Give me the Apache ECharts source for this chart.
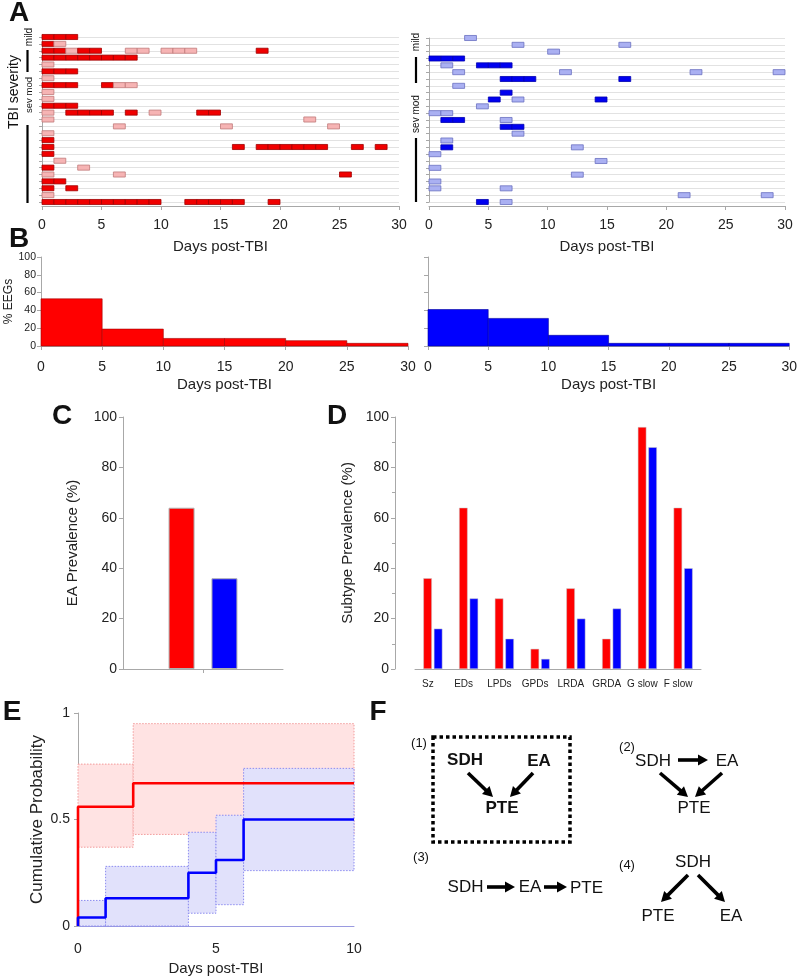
<!DOCTYPE html>
<html><head><meta charset="utf-8">
<script src="https://cdn.jsdelivr.net/npm/echarts@6/dist/echarts.min.js"></script>
<style>html,body{margin:0;padding:0;background:#fff}#c{width:800px;height:977px}</style>
</head><body><div id="c"></div>
<script>
const FONT = '"Liberation Sans", Arial, Helvetica, sans-serif';
const TXT = '#222';

// ---------- Panel A: EEG days per patient: [row, startDay, endDay, EA present (1) / absent (0)]
const aSdhRuns = [
  [1,0,3,1],
  [2,0,1,1],[2,1,2,0],
  [3,0,2,1],[3,2,3,0],[3,3,5,1],[3,7,9,0],[3,10,13,0],[3,18,19,1],
  [4,0,8,1],
  [5,0,1,0],
  [6,0,3,1],
  [7,0,1,0],
  [8,0,3,1],[8,5,6,1],[8,6,8,0],
  [9,0,1,0],
  [10,0,1,0],
  [11,0,3,1],
  [12,0,1,0],[12,2,6,1],[12,7,8,1],[12,9,10,0],[12,13,15,1],
  [13,0,1,0],[13,22,23,0],
  [14,6,7,0],[14,15,16,0],[14,24,25,0],
  [15,0,1,0],
  [16,0,1,1],
  [17,0,1,1],[17,16,17,1],[17,18,24,1],[17,26,27,1],[17,28,29,1],
  [18,0,1,1],
  [19,1,2,0],
  [20,0,1,1],[20,3,4,0],
  [21,0,1,0],[21,6,7,0],[21,25,26,1],
  [22,0,2,1],
  [23,0,1,1],[23,2,3,1],
  [24,0,1,0],
  [25,0,10,1],[25,12,17,1],[25,19,20,1]
];
const aNoSdhRuns = [
  [1,3,4,0],
  [2,7,8,0],[2,16,17,0],
  [3,10,11,0],
  [4,0,3,1],
  [5,1,2,0],[5,4,7,1],
  [6,2,3,0],[6,11,12,0],[6,22,23,0],[6,29,30,0],
  [7,6,9,1],[7,16,17,1],
  [8,2,3,0],
  [9,6,7,1],
  [10,5,6,1],[10,7,8,0],[10,14,15,1],
  [11,4,5,0],
  [12,0,1,0],[12,1,2,0],
  [13,1,3,1],[13,6,7,0],
  [14,6,8,1],
  [15,7,8,0],
  [16,1,2,0],
  [17,1,2,1],[17,12,13,0],
  [18,0,1,0],
  [19,14,15,0],
  [20,0,1,0],
  [21,12,13,0],
  [22,0,1,0],
  [23,0,1,0],[23,6,7,0],
  [24,21,22,0],[24,28,29,0],
  [25,4,5,1],[25,6,7,0]
];

// ---------- Panel B: % EEGs with EA per 5-day bin
const bBinStart = [0,5,10,15,20,25];
const bBinWidth = 5;
const bSdhPct   = [53,19,8.5,8.5,6,3];
const bNoSdhPct = [41,31,12,3,3,3];

// ---------- Panel C
const cSdh = [64];
const cNoSdh = [36];

// ---------- Panel D
const dCategories = ['Sz','EDs','LPDs','GPDs','LRDA','GRDA','G slow','F slow'];
const dSdh   = [36,64,28,8,32,12,96,64];
const dNoSdh = [16,28,12,4,20,24,88,40];

// ---------- Panel E: cumulative probability (step functions)
const eRedDays  = [0,0,2,10];
const eRedProb  = [0,0.56,0.67,0.67];
const eRedBandDays  = [0,2,10];
const eRedBandLow   = [0.37,0.43];
const eRedBandHigh  = [0.76,0.95];
const eBlueDays = [0,0,1,4,5,6,10];
const eBlueProb = [0,0.04,0.13,0.25,0.31,0.50,0.50];
const eBlueBandDays = [0,1,4,5,6,10];
const eBlueBandLow  = [0,0,0.06,0.10,0.26];
const eBlueBandHigh = [0.12,0.28,0.44,0.52,0.74];

// ---------------- helpers
function expandDays(runs){
  const out=[];
  runs.forEach(r=>{ for(let d=r[1]; d<r[2]; d++) out.push([d, r[0], d+1, r[3]]); });
  return out;
}
function boxRenderer(fillOn, strokeOn, fillOff, strokeOff){
  return function(params, api){
    const p0 = api.coord([api.value(0), api.value(1)]);
    const p1 = api.coord([api.value(2), api.value(1)]);
    const h = Math.abs(api.size([0,1])[1]) * 0.74;
    const on = api.value(3) === 1;
    return {type:'rect', shape:{x:p0[0], y:p0[1]-h/2, width:p1[0]-p0[0], height:h},
      style:{fill: on?fillOn:fillOff, stroke: on?strokeOn:strokeOff, lineWidth:0.8}};
  };
}
function histRenderer(fill, stroke){
  return function(params, api){
    const p0 = api.coord([api.value(0), api.value(1)]);
    const p1 = api.coord([api.value(2), 0]);
    return {type:'rect', shape:{x:p0[0], y:p0[1], width:p1[0]-p0[0], height:p1[1]-p0[1]},
      style:{fill, stroke, lineWidth:0.6}};
  };
}
function bandRenderer(fill, stroke){
  return function(params, api){
    const p0 = api.coord([api.value(0), api.value(3)]);
    const p1 = api.coord([api.value(1), api.value(2)]);
    return {type:'rect', shape:{x:p0[0], y:p0[1], width:p1[0]-p0[0], height:p1[1]-p0[1]},
      style:{fill, stroke, lineWidth:1, lineDash:[1.5,1.5]}};
  };
}
const bandSegments = (days, low, high) => low.map((l,i)=>[days[i], days[i+1], l, high[i]]);
const zip = (a,b)=>a.map((v,i)=>[v,b[i]]);
const AX = '#a8a8a8';
function dayAxis(gi, offset, margin, nameGap){
  return {type:'value', gridIndex:gi, min:0, max:30, interval:5, offset,
    name:'Days post-TBI', nameLocation:'middle', nameGap,
    nameTextStyle:{fontFamily:FONT, fontSize:15, color:TXT},
    axisLine:{lineStyle:{color:AX}}, axisTick:{show:true, length:4, lineStyle:{color:AX}},
    axisLabel:{fontFamily:FONT, fontSize:14, color:TXT, margin}, splitLine:{show:false}};
}
function rowAxis(gi){
  return {type:'value', gridIndex:gi, min:1, max:25, interval:1, inverse:true,
    axisLine:{show:true, lineStyle:{color:AX}}, axisTick:{show:true, length:3, lineStyle:{color:AX}},
    axisLabel:{show:false}, splitLine:{show:true, lineStyle:{color:'#e2e2e2', width:1}}};
}
function pctAxis(gi, showLabels){
  return {type:'value', gridIndex:gi, min:0, max:100, interval:20,
    name: showLabels ? '% EEGs' : '', nameLocation:'middle', nameGap:23,
    nameTextStyle:{fontFamily:FONT, fontSize:12, color:TXT},
    axisLine:{show:true, lineStyle:{color:AX}}, axisTick:{show:true, length:4, lineStyle:{color:AX}},
    axisLabel:{show:showLabels, fontFamily:FONT, fontSize:10.5, color:TXT, margin:5}, splitLine:{show:false}};
}
function arrow(x1,y1,x2,y2){
  const a=Math.atan2(y2-y1,x2-x1), hl=10, hw=5.5;
  const c=Math.cos(a), s=Math.sin(a);
  const bx=x2-hl*c, by=y2-hl*s;
  return [
    {type:'line', shape:{x1,y1,x2:bx+c,y2:by+s}, style:{stroke:'#000', lineWidth:3.6}},
    {type:'polygon', shape:{points:[[x2,y2],[bx+hw*s,by-hw*c],[bx-hw*s,by+hw*c]]}, style:{fill:'#000'}}
  ];
}
function txt(t,x,y,size,bold,rot){
  return {type:'text', x, y, rotation: rot||0, style:{text:t, font:(bold?'bold ':'')+size+'px '+FONT,
    fill:'#111', textAlign:'center', textVerticalAlign:'middle'}};
}
function vline(x,y1,y2){ return {type:'line', shape:{x1:x,y1,x2:x,y2}, style:{stroke:'#000', lineWidth:2.2}}; }

const graphics = [
  txt('A',19,13,28,true), txt('B',19,239,28,true), txt('C',62,416,28,true),
  txt('D',337,416,28,true), txt('E',12,712,28,true), txt('F',378,712,28,true),
  // panel A severity annotations
  txt('TBI severity',14,92,14,false,Math.PI/2),
  txt('mild',29,37,10,false,Math.PI/2), vline(27.5,50,72),
  txt('sev mod',29,95,9.5,false,Math.PI/2), vline(27.5,125,203),
  txt('mild',416.5,42,10,false,Math.PI/2), vline(416,57,83),
  txt('sev mod',416.5,114,10,false,Math.PI/2), vline(416,138,202),
  // panel F
  {type:'rect', shape:{x:433,y:737,width:137,height:105}, style:{fill:'none', stroke:'#000', lineWidth:3.5, lineDash:[3.5,3]}},
  txt('(1)',419,743,13), txt('(2)',627,747,13), txt('(3)',421,857,13), txt('(4)',627,865,13),
  txt('SDH',465,760,17,true), txt('EA',539,761,17,true), txt('PTE',502,808,17,true),
  ...arrow(468,773,493,797), ...arrow(533,773,510,797),
  txt('SDH',653,761,17), txt('EA',727,761,17), txt('PTE',694,808,17),
  ...arrow(678,760,708,760), ...arrow(660,773,688,797), ...arrow(722,773,695,797),
  txt('SDH',465.5,887,17), txt('EA',530,887,17), txt('PTE',586.5,888,17),
  ...arrow(487,887,515,887), ...arrow(544,887,567,887),
  txt('SDH',693,862,17), txt('PTE',658,916,17), txt('EA',731,916,17),
  ...arrow(688,875,661,902), ...arrow(698,875,725,902)
];

const option = {
  animation:false,
  backgroundColor:'#fff',
  textStyle:{fontFamily:FONT},
  grid:[
    {left:42, top:37, width:357, height:165},
    {left:429, top:38, width:356, height:164},
    {left:41, top:257, width:367, height:89},
    {left:428, top:257, width:367, height:89},
    {left:123, top:417, width:160, height:252},
    {left:415, top:417, width:286, height:252},
    {left:78, top:713, width:276, height:213}
  ],
  xAxis:[
    dayAxis(0,4,12,33),
    dayAxis(1,4,12,33),
    dayAxis(2,0,14,31),
    dayAxis(3,0,14,31),
    {type:'category', gridIndex:4, data:[''], axisLine:{lineStyle:{color:AX}},
      axisTick:{show:true, alignWithLabel:true, length:4, lineStyle:{color:AX}}, axisLabel:{show:false}},
    {type:'category', gridIndex:5, data:dCategories, axisLine:{lineStyle:{color:AX}}, axisTick:{show:false},
      axisLabel:{fontFamily:FONT, fontSize:10, color:TXT, margin:10, padding:[0,10,0,0], interval:0}},
    {type:'value', gridIndex:6, min:0, max:10, interval:5, name:'Days post-TBI', nameLocation:'middle', nameGap:35,
      nameTextStyle:{fontFamily:FONT, fontSize:15, color:TXT},
      axisLine:{lineStyle:{color:'#9a9ae0'}}, axisTick:{show:false},
      axisLabel:{fontFamily:FONT, fontSize:14, color:TXT, margin:16}, splitLine:{show:false}}
  ],
  yAxis:[
    rowAxis(0), rowAxis(1),
    pctAxis(2,true), pctAxis(3,false),
    {type:'value', gridIndex:4, min:0, max:100, interval:20, name:'EA Prevalence (%)', nameLocation:'middle', nameGap:43,
      nameTextStyle:{fontFamily:FONT, fontSize:15, color:TXT},
      axisLine:{show:true, lineStyle:{color:AX}}, axisTick:{show:true, length:4, lineStyle:{color:AX}},
      axisLabel:{fontFamily:FONT, fontSize:14, color:TXT, margin:6}, splitLine:{show:false}},
    {type:'value', gridIndex:5, min:0, max:100, interval:20, offset:20, name:'Subtype Prevalence (%)', nameLocation:'middle', nameGap:40,
      nameTextStyle:{fontFamily:FONT, fontSize:15, color:TXT},
      axisLine:{show:true, lineStyle:{color:AX}}, axisTick:{show:true, length:4, lineStyle:{color:AX}},
      minorTick:{show:true, splitNumber:2, length:3, lineStyle:{color:AX}},
      axisLabel:{fontFamily:FONT, fontSize:14, color:TXT, margin:6}, splitLine:{show:false}},
    {type:'value', gridIndex:6, min:0, max:1, interval:0.5, name:'Cumulative Probability', nameLocation:'middle', nameGap:32,
      nameTextStyle:{fontFamily:FONT, fontSize:17, color:TXT},
      axisLine:{show:true, lineStyle:{color:AX}}, axisTick:{show:true, length:4, lineStyle:{color:AX}},
      axisLabel:{fontFamily:FONT, fontSize:14, color:TXT, margin:8}, splitLine:{show:false}}
  ],
  series:[
    {type:'custom', xAxisIndex:0, yAxisIndex:0, data:expandDays(aSdhRuns),
      renderItem:boxRenderer('#f00000','#a00000','#f6b4b4','#c07a7a')},
    {type:'custom', xAxisIndex:1, yAxisIndex:1, data:expandDays(aNoSdhRuns),
      renderItem:boxRenderer('#0000f0','#0000b0','#aab0f2','#6a70c0')},
    {type:'custom', xAxisIndex:2, yAxisIndex:2, data:bBinStart.map((s,i)=>[s,bSdhPct[i],s+bBinWidth]),
      renderItem:histRenderer('#ff0000','#a00000')},
    {type:'custom', xAxisIndex:3, yAxisIndex:3, data:bBinStart.map((s,i)=>[s,bNoSdhPct[i],s+bBinWidth]),
      renderItem:histRenderer('#0000ff','#0000a0')},
    {type:'bar', xAxisIndex:4, yAxisIndex:4, data:cSdh, barWidth:26, barGap:'65%',
      itemStyle:{color:'#ff0000', borderColor:'#b0b0b0', borderWidth:1}},
    {type:'bar', xAxisIndex:4, yAxisIndex:4, data:cNoSdh, barWidth:26, barGap:'65%',
      itemStyle:{color:'#0000ff', borderColor:'#b0b0b0', borderWidth:1}},
    {type:'bar', xAxisIndex:5, yAxisIndex:5, data:dSdh, barWidth:8.5, barGap:'24%',
      itemStyle:{color:'#ff0000', borderColor:'#c8c8c8', borderWidth:0.5}},
    {type:'bar', xAxisIndex:5, yAxisIndex:5, data:dNoSdh, barWidth:8.5, barGap:'24%',
      itemStyle:{color:'#0000ff', borderColor:'#c8c8c8', borderWidth:0.5}},
    // E: confidence bands
    {type:'custom', xAxisIndex:6, yAxisIndex:6, silent:true,
      data:bandSegments(eRedBandDays, eRedBandLow, eRedBandHigh),
      renderItem:bandRenderer('#ffe3e3','#f29a9a')},
    {type:'custom', xAxisIndex:6, yAxisIndex:6, silent:true,
      data:bandSegments(eBlueBandDays, eBlueBandLow, eBlueBandHigh),
      renderItem:bandRenderer('#e1e1fb','#8c8cf0')},
    {type:'line', xAxisIndex:6, yAxisIndex:6, step:'end', symbol:'none', data:zip(eRedDays,eRedProb),
      lineStyle:{color:'#ff0000', width:2.6}, z:5},
    {type:'line', xAxisIndex:6, yAxisIndex:6, step:'end', symbol:'none', data:zip(eBlueDays,eBlueProb),
      lineStyle:{color:'#0000ff', width:2.6}, z:5}
  ],
  graphic: graphics
};
const chart = echarts.init(document.getElementById('c'), null, {renderer:'canvas'});
chart.setOption(option);
</script></body></html>
